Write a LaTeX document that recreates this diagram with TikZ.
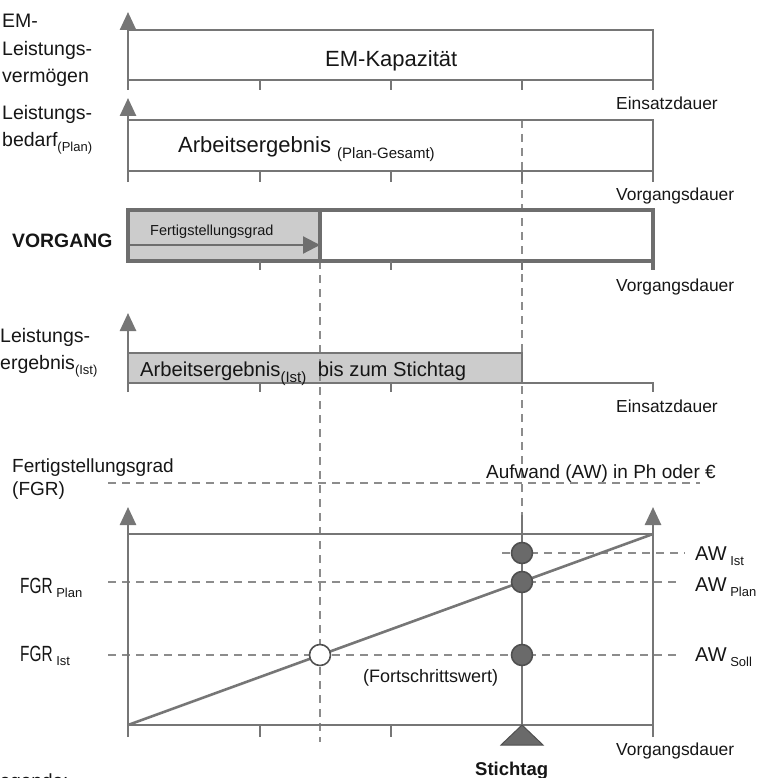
\documentclass[tikz,border=0pt]{standalone}
\usepackage{fontspec}
\setmainfont{Liberation Sans}
\newfontfamily\condfont{Liberation Sans}[FakeStretch=0.7]
\usetikzlibrary{arrows.meta}

\definecolor{axisgray}{HTML}{767676}
\definecolor{taskgray}{HTML}{6E6E6E}
\definecolor{dashgray}{HTML}{8C8C8C}
\definecolor{boxfill}{HTML}{CCCCCC}
\definecolor{dotfill}{HTML}{6A6A6A}
\definecolor{dotline}{HTML}{505050}
\definecolor{inkcol}{HTML}{161616}

% lowered small text after a word
\newcommand{\lowtxt}[2]{\raisebox{-#1}{\fontsize{13}{14}\selectfont #2}}
\newcommand{\lowtxtb}[2]{\raisebox{-#1}{\fontsize{15}{16}\selectfont #2}}

\tikzset{
  axisline/.style={draw=axisgray, line width=2.6pt},
  thinaxis/.style={draw=axisgray, line width=1.6pt},
  tickline/.style={draw=axisgray, line width=2.4pt},
  axisarrow/.style={draw=axisgray, line width=2.6pt, -{Triangle[width=16pt,length=18pt]}},
  taskbox/.style={draw=taskgray, line width=3.4pt},
  guide/.style={draw=dashgray, line width=1.3pt, dash pattern=on 8pt off 6pt},
  txt/.style={inner sep=0pt, anchor=base west, text=inkcol},
  sidelbl/.style={txt, font=\fontsize{19.5}{27.5}\selectfont, align=left},
  boxlbl/.style={txt, font=\fontsize{22}{26}\selectfont},
  unitlbl/.style={txt, font=\fontsize{17.4}{20}\selectfont},
  dot/.style={circle, draw=dotline, fill=dotfill, line width=1.6pt, minimum size=21pt, inner sep=0pt},
  opendot/.style={dot, fill=white},
}

\begin{document}
\begin{tikzpicture}[x=1pt, y=-1pt]
\useasboundingbox (0,0) rectangle (756,778);

% ---------- fills ----------
\fill[boxfill] (128,210) rectangle (320,261);
\fill[boxfill] (128,353) rectangle (522,383);

% ---------- guide lines ----------
\coordinate (stA) at (522,120);
\coordinate (stB) at (522,515);
\coordinate (fgA) at (320,261);
\coordinate (fgB) at (320,742);
\draw[guide] (stA) -- (stB);
\draw[guide] (fgA) -- (fgB);
\draw[guide] (108,483) -- (700,483);
\draw[guide] (108,582) -- (677,582);
\draw[guide] (108,655) -- (677,655);
\draw[guide] (502,553) -- (685,553);

% ---------- EM capacity ----------
\draw[axisarrow] (128,90) -- (128,12);
\draw[axisline] (128,30) -- (653,30) -- (653,90);
\draw[axisline] (128,80) -- (653,80);
\foreach \x in {260,391,522} \draw[tickline] (\x,80) -- (\x,90);

% ---------- planned demand ----------
\draw[axisarrow] (128,182) -- (128,98);
\draw[axisline] (128,120) -- (653,120) -- (653,182);
\draw[axisline] (128,171) -- (653,171);
\foreach \x in {260,391,522} \draw[tickline] (\x,171) -- (\x,182);

% ---------- task ----------
\draw[taskbox] (128,210) rectangle (653,261);
\draw[taskbox] (320,210) -- (320,261);
\foreach \x in {260,391,522} \draw[tickline] (\x,261) -- (\x,270);
\draw[taskbox] (653,261) -- (653,270);
\coordinate (fsA) at (128,245);
\coordinate (fsB) at (320,245);
\draw[draw=taskgray, line width=2.2pt, -{Triangle[width=17pt,length=17pt]}] (fsA) -- (fsB);

% ---------- actual result ----------
\draw[axisarrow] (128,392) -- (128,313);
\draw[axisline] (128,353) -- (522,353) -- (522,383) -- (128,383);
\draw[thinaxis] (522,383) -- (653,383) -- (653,392);
\foreach \x in {260,391} \draw[tickline] (\x,383) -- (\x,392);

% ---------- completion chart ----------
\coordinate (org) at (128,725);
\coordinate (end) at (653,534);
\draw[axisarrow] (128,737) -- (128,507);
\draw[axisarrow] (653,737) -- (653,507);
\draw[axisline] (128,534) -- (653,534);
\draw[axisline] (128,725) -- (653,725);
\foreach \x in {260,391} \draw[tickline] (\x,725) -- (\x,737);
\draw[axisline] (org) -- (end);
\coordinate (stC) at (522,725);
\draw[thinaxis] (stB) -- (stC);
\filldraw[fill=dotfill, draw=dotline, line width=1pt] (501,745) -- (543,745) -- (stC) -- cycle;

\node[dot] (awist) at (522,553) {};
\node[dot] (awplan) at (522,582) {};
\node[dot] (awsoll) at (522,655) {};
\node[opendot] (fgrist) at (320,655) {};

% ---------- texts (multi-line labels are placed by their last baseline) ----------
\node[sidelbl] (l1) at (2,83) {EM-\\Leistungs-\\vermögen};
\node[sidelbl] (l2) at (2,147) {Leistungs-\\bedarf\lowtxt{5pt}{(Plan)}};
\node[sidelbl] (l3) at (0,369.5) {Leistungs-\\ergebnis\lowtxt{5pt}{(Ist)}};
\node[txt, font=\bfseries\fontsize{19.4}{22}\selectfont] (vg) at (12,247) {VORGANG};
\node[sidelbl, font=\fontsize{19}{23}\selectfont] (l4) at (12,495) {Fertigstellungsgrad\\(FGR)};

\node[boxlbl] (emk) at (325,67) {EM-Kapazität};
\node[boxlbl] (aeplan) at (178,153) {Arbeitsergebnis \lowtxtb{6pt}{(Plan-Gesamt)}};
\node[txt, font=\fontsize{14.5}{16}\selectfont] (fsg) at (150,235) {Fertigstellungsgrad};
\node[txt, font=\fontsize{20.2}{24}\selectfont] (aeist) at (140,376) {Arbeitsergebnis\lowtxtb{6pt}{(Ist)}\hspace{6pt} bis zum Stichtag};

\node[unitlbl] at (616,110) {Einsatzdauer};
\node[unitlbl] at (616,200) {Vorgangsdauer};
\node[unitlbl] at (616,291) {Vorgangsdauer};
\node[unitlbl] at (616,412) {Einsatzdauer};
\node[unitlbl] at (616,755) {Vorgangsdauer};

\node[txt, font=\fontsize{19}{22}\selectfont] (aw) at (486,478) {Aufwand (AW) in Ph oder €};
\node[txt, font=\fontsize{18}{21}\selectfont] (fw) at (363,682) {(Fortschrittswert)};
\node[txt, font=\bfseries\fontsize{18.5}{21}\selectfont] (stt) at (475,775) {Stichtag};

\node[txt, font=\condfont\fontsize{22}{24}\selectfont] (fgrp) at (20,593) {FGR\lowtxt{4pt}{\normalfont\fontsize{13}{14}\selectfont\ Plan}};
\node[txt, font=\condfont\fontsize{22}{24}\selectfont] (fgri) at (20,661) {FGR\lowtxt{4pt}{\normalfont\fontsize{13}{14}\selectfont\ Ist}};
\node[txt, font=\fontsize{20}{24}\selectfont] (awi) at (695,560) {AW\lowtxt{5pt}{\ Ist}};
\node[txt, font=\fontsize{20}{24}\selectfont] (awp) at (695,591) {AW\lowtxt{5pt}{\ Plan}};
\node[txt, font=\fontsize{20}{24}\selectfont] (aws) at (695,661) {AW\lowtxt{5pt}{\ Soll}};

\node[txt, font=\fontsize{19}{22}\selectfont] (leg) at (-11,787) {Legende:};
\end{tikzpicture}
\end{document}
